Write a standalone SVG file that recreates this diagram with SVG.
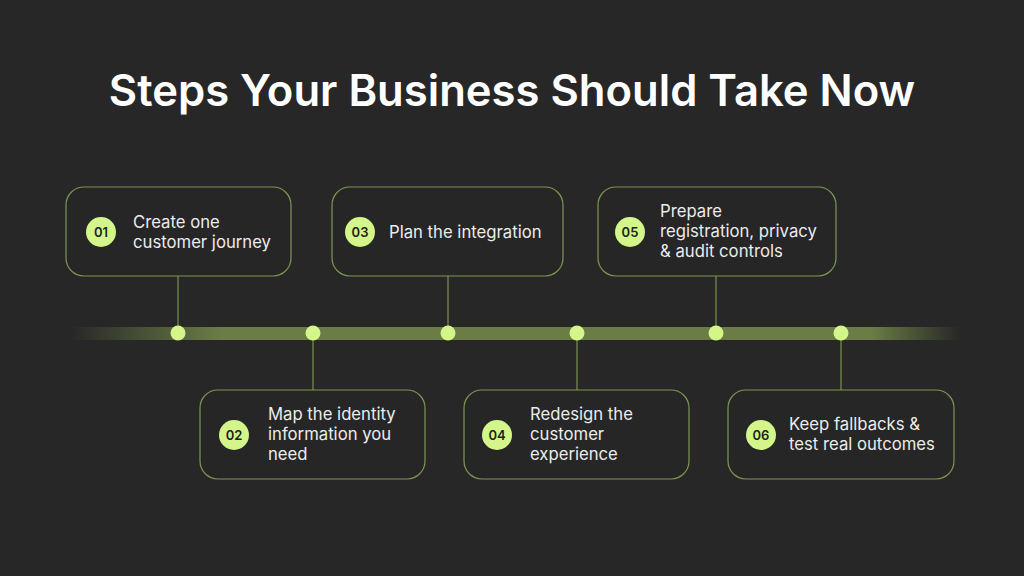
<svg xmlns="http://www.w3.org/2000/svg" width="1024" height="576" viewBox="0 0 1024 576">
<defs>
<linearGradient id="bar" x1="0" x2="1" y1="0" y2="0">
<stop offset="0" stop-color="#6b7d45" stop-opacity="0"/>
<stop offset="0.17" stop-color="#6b7d45"/>
<stop offset="0.9" stop-color="#6b7d45"/>
<stop offset="1" stop-color="#6b7d45" stop-opacity="0"/>
</linearGradient>
<style>
.box{fill:#262626;stroke:#7d9651;stroke-width:1.2}
.badge{fill:#d4f58a}
.num{font-family:Inter,"Liberation Sans",sans-serif;font-size:13px;font-weight:600;fill:#1e1e1e;text-anchor:middle}
.lbl{font-family:Inter,"Liberation Sans",sans-serif;font-size:16.7px;fill:#ececec}
.dot{fill:#d4f58a}
.con{stroke:#6b7d45;stroke-width:1.5}
</style>
</defs>
<rect width="1024" height="576" fill="#272727"/>
<text x="512" y="106" text-anchor="middle" font-family="Inter,'Liberation Sans',sans-serif" font-size="43.6" font-weight="600" fill="#ffffff">Steps Your Business Should Take Now</text>
<rect x="70" y="327" width="890" height="13" fill="url(#bar)"/>
<g id="connectors">
<line class="con" x1="178" y1="276" x2="178" y2="333"/>
<line class="con" x1="448" y1="276" x2="448" y2="333"/>
<line class="con" x1="716" y1="276" x2="716" y2="333"/>
<line class="con" x1="313" y1="333" x2="313" y2="390"/>
<line class="con" x1="577" y1="333" x2="577" y2="390"/>
<line class="con" x1="841" y1="333" x2="841" y2="390"/>
<circle class="dot" cx="178" cy="333" r="7.5"/>
<circle class="dot" cx="313" cy="333" r="7.5"/>
<circle class="dot" cx="448" cy="333" r="7.5"/>
<circle class="dot" cx="577" cy="333" r="7.5"/>
<circle class="dot" cx="716" cy="333" r="7.5"/>
<circle class="dot" cx="841" cy="333" r="7.5"/>
</g>
<g id="step1"><rect class="box" x="66" y="187" width="225" height="89" rx="18"/><circle class="badge" cx="101" cy="232" r="15"/><text class="num" x="101" y="237">01</text><text class="lbl" x="133" y="228">Create one</text><text class="lbl" x="133" y="248">customer journey</text></g>
<g id="step3"><rect class="box" x="332" y="187" width="231" height="89" rx="18"/><circle class="badge" cx="360" cy="232" r="15"/><text class="num" x="360" y="237">03</text><text class="lbl" x="389" y="238">Plan the integration</text></g>
<g id="step5"><rect class="box" x="598" y="187" width="238" height="89" rx="18"/><circle class="badge" cx="630" cy="232" r="15"/><text class="num" x="630" y="237">05</text><text class="lbl" x="660" y="217">Prepare</text><text class="lbl" x="660" y="237">registration, privacy</text><text class="lbl" x="660" y="257">&amp; audit controls</text></g>
<g id="step2"><rect class="box" x="200" y="390" width="225" height="89" rx="18"/><circle class="badge" cx="234" cy="435" r="15"/><text class="num" x="234" y="440">02</text><text class="lbl" x="268" y="420">Map the identity</text><text class="lbl" x="268" y="440">information you</text><text class="lbl" x="268" y="460">need</text></g>
<g id="step4"><rect class="box" x="464" y="390" width="225" height="89" rx="18"/><circle class="badge" cx="497" cy="435" r="15"/><text class="num" x="497" y="440">04</text><text class="lbl" x="530" y="420">Redesign the</text><text class="lbl" x="530" y="440">customer</text><text class="lbl" x="530" y="460">experience</text></g>
<g id="step6"><rect class="box" x="728" y="390" width="226" height="89" rx="18"/><circle class="badge" cx="761" cy="435" r="15"/><text class="num" x="761" y="440">06</text><text class="lbl" x="789" y="430">Keep fallbacks &amp;</text><text class="lbl" x="789" y="450">test real outcomes</text></g>
</svg>
